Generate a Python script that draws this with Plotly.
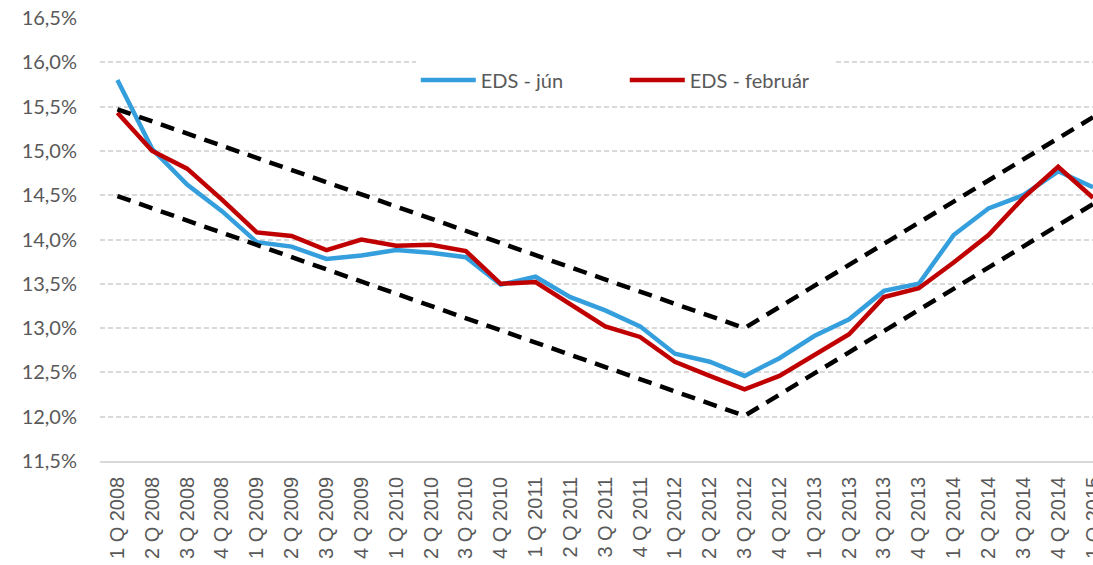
import plotly.graph_objects as go

categories = [f"{q} Q {y}" for y in range(2008, 2015) for q in range(1, 5)] + ["1 Q 2015"]

eds_jun = [15.80, 15.02, 14.62, 14.32, 13.97, 13.92, 13.78, 13.82, 13.88, 13.85,
           13.80, 13.49, 13.58, 13.35, 13.20, 13.02, 12.71, 12.62, 12.46, 12.66,
           12.91, 13.10, 13.42, 13.50, 14.05, 14.35, 14.50, 14.77, 14.59]
eds_feb = [15.43, 15.00, 14.80, 14.45, 14.08, 14.04, 13.88, 14.00, 13.93, 13.94,
           13.87, 13.50, 13.52, 13.27, 13.02, 12.90, 12.62, 12.46, 12.31, 12.46,
           12.69, 12.93, 13.35, 13.45, 13.74, 14.05, 14.47, 14.82, 14.47]

band_x = ["1 Q 2008", "3 Q 2012", "1 Q 2015"]
band_upper = [15.47, 13.00, 15.38]
band_lower = [14.49, 12.01, 14.40]

y_ticks = [11.5, 12.0, 12.5, 13.0, 13.5, 14.0, 14.5, 15.0, 15.5, 16.0, 16.5]
y_tick_text = [f"{v:.1f}%".replace(".", ",") for v in y_ticks]

fig = go.Figure()
fig.add_trace(go.Scatter(x=categories, y=eds_jun, mode="lines", name="EDS - jún",
                         line=dict(color="#359FDD", width=4.5)))
fig.add_trace(go.Scatter(x=categories, y=eds_feb, mode="lines", name="EDS - február",
                         line=dict(color="#C00000", width=4.5)))
for band in (band_upper, band_lower):
    fig.add_trace(go.Scatter(x=band_x, y=band, mode="lines", showlegend=False,
                             line=dict(color="black", width=4.5, dash="14px,9px")))

fig.update_layout(
    width=1093, height=565,
    margin=dict(l=100, r=0, t=18, b=104, autoexpand=False),
    plot_bgcolor="white", paper_bgcolor="white",
    showlegend=True,
    legend=dict(orientation="h", x=0.318, y=0.86, xanchor="left", yanchor="middle",
                font=dict(family="Lato", size=20, color="#595959"),
                bgcolor="rgba(255,255,255,1)", itemwidth=55, entrywidth=139),
)
fig.update_xaxes(
    type="category", categoryorder="array", categoryarray=categories,
    range=[-0.5, 28], tickangle=-90, tickvals=categories, automargin=False,
    tickfont=dict(family="Liberation Sans", size=20, color="#595959"),
    showgrid=False, showline=True, linecolor="#D9D9D9", linewidth=1.5,
    ticks="", ticklabelstandoff=6,
)
fig.update_yaxes(
    range=[11.5, 16.5], tickvals=y_ticks, ticktext=y_tick_text, automargin=False,
    tickfont=dict(family="Lato", size=20, color="#595959"),
    showgrid=True, gridcolor="#D9D9D9", gridwidth=1.5, griddash="5px,3px",
    zeroline=False, showline=False, ticks="", ticklabelstandoff=22,
)
fig.write_html("out.html", config={"displayModeBar": False},
               post_script="document.body.style.margin='0';document.body.style.overflow='hidden';")
